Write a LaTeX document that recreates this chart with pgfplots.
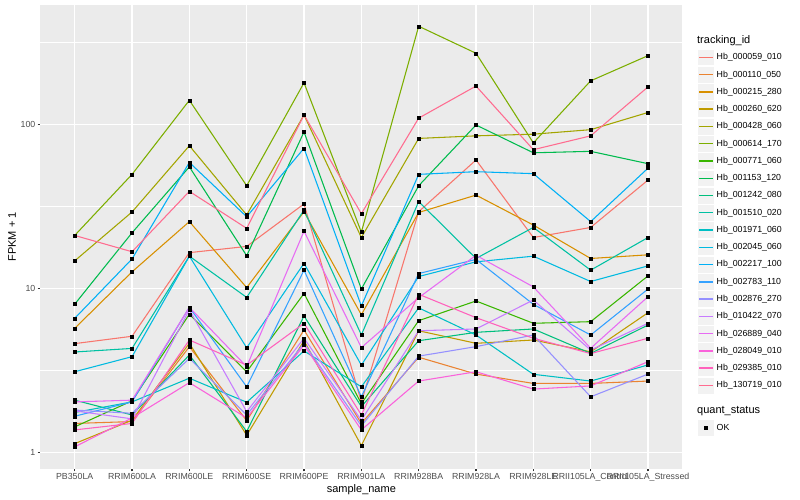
\documentclass[border=0pt]{standalone}
\usepackage{fontspec}
\setmainfont{Liberation Sans}
\usepackage{pgfplots}
\usepackage{pgfplotstable}
\pgfplotsset{compat=1.18}

\definecolor{ggpanel}{HTML}{EBEBEB}
\definecolor{ggkey}{HTML}{F2F2F2}
\definecolor{ggtick}{HTML}{333333}
\definecolor{ggtext}{HTML}{4D4D4D}
\definecolor{c1}{HTML}{F8766D}
\definecolor{c2}{HTML}{EA8331}
\definecolor{c3}{HTML}{D89000}
\definecolor{c4}{HTML}{C09B00}
\definecolor{c5}{HTML}{A3A500}
\definecolor{c6}{HTML}{7CAE00}
\definecolor{c7}{HTML}{39B600}
\definecolor{c8}{HTML}{00BB4E}
\definecolor{c9}{HTML}{00BF7D}
\definecolor{c10}{HTML}{00C1A3}
\definecolor{c11}{HTML}{00BFC4}
\definecolor{c12}{HTML}{00BAE0}
\definecolor{c13}{HTML}{00B0F6}
\definecolor{c14}{HTML}{35A2FF}
\definecolor{c15}{HTML}{9590FF}
\definecolor{c16}{HTML}{C77CFF}
\definecolor{c17}{HTML}{E76BF3}
\definecolor{c18}{HTML}{FA62DB}
\definecolor{c19}{HTML}{FF62BC}
\definecolor{c20}{HTML}{FF6C90}

% FPKM + 1 per sample (x = sample index), one column per tracking_id
\pgfplotstableread{
x  s1   s2   s3   s4   s5   s6   s7   s8   s9   s10  s11  s12  s13  s14  s15  s16  s17  s18  s19  s20
0  4.6  1.50 5.7  1.13 14.7 21   1.43 8.0  2.08 4.09 1.75 3.1  6.56 1.66 1.81 1.79 2.03 1.08 1.37 21
1  5.1  1.54 12.6 1.57 29.2 49.5 2.06 21.8 1.69 4.3  2.03 3.83 15.1 2.03 1.73 1.60 2.08 1.62 1.50 16.7
2  16.5 4.4  25.5 4.62 74   140  6.95 55   3.92 15.7 2.83 15.7 58.5 7.66 3.74 7.4  7.66 2.66 4.84 39
3  18.0 1.56 10.1 1.27 28   42.2 3.1  15.8 1.34 8.8  2.02 4.34 27.3 2.51 1.69 1.77 3.33 1.62 3.4  23.2
4  32.7 5.57 29.3 4.8  114  179  9.3  89.8 6.78 30   4.15 14.2 71.4 12.9 4.62 4.96 22.3 4.5  6.12 114
5  2.03 1.5  6.9  1.1  20.4 22   1.98 9.9  1.9  5.2  2.51 3.4  7.8  2.18 1.45 1.57 4.35 1.37 1.69 28.5
6  29.3 3.8  29.0 5.51 82   396  6.35 42.2 4.79 33.8 7.6  11.8 49.5 12.3 3.86 5.51 8.77 2.72 9.2  109
7  60.6 3.0  37   4.62 85   271  8.37 99   5.39 15.2 5.19 14.5 51.4 15   4.41 5.65 15.9 3.1  6.62 171
8  20.4 2.63 24.3 4.84 87   77   6.12 67   5.65 23.5 2.99 15.7 50   7.99 5.19 8.49 10.2 2.43 4.96 70
9  23.5 2.63 15.2 4.1  92.7 184  6.26 68.4 4.01 12.9 2.72 11   25.5 5.19 2.18 4.2  4.31 2.54 4.0  85
10 45.7 2.72 16.0 7.1  118  262  11.9 57.5 5.97 20.4 3.41 13.7 54   9.9  3.0  6.12 8.89 3.57 4.96 169
}\data

\begin{document}
\begin{tikzpicture}
\path[use as bounding box] (0,0) rectangle (800bp,500bp);
\begin{axis}[
  at={(40.3bp,31.4bp)}, anchor=south west,
  scale only axis, width=642.1bp, height=463.4bp,
  xmin=-0.6, xmax=10.6,
  ymode=log, ymin=0.796, ymax=532,
  axis background/.style={fill=ggpanel},
  axis line style={draw=none},
  tick pos=left, tick align=outside,
  major tick length=2.75bp, minor tick length=0pt,
  tick style={color=ggtick, line width=1.07bp},
  xtick={0,...,10},
  xticklabels={PB350LA,RRIM600LA,RRIM600LE,RRIM600SE,RRIM600PE,RRIM901LA,RRIM928BA,RRIM928LA,RRIM928LE,RRII105LA\_Control,RRII105LA\_Stressed},
  ytick={1,10,100}, yticklabels={1,10,100},
  minor ytick={3.1623,31.623,316.23},
  xmajorgrids, ymajorgrids, yminorgrids,
  major grid style={white, line width=1.07bp},
  minor grid style={white, line width=0.53bp},
  ticklabel style={font=\fontsize{8.8bp}{10bp}\selectfont, text=ggtext, inner sep=0pt, outer sep=0pt},
  xticklabel shift=2.2bp, yticklabel shift=2.2bp,
  xlabel={sample\_name},
  every axis x label/.style={at={(axis description cs:0.5,-0.0505)}, anchor=base, font=\fontsize{11bp}{13bp}\selectfont, inner sep=0pt},
  ylabel={FPKM + 1},
  every axis y label/.style={at={(axis description cs:-0.0441,0.5)}, rotate=90, anchor=center, font=\fontsize{11bp}{13bp}\selectfont, inner sep=0pt},
  legend cell align=left,
  legend style={at={(1.0232,0.9407)}, anchor=north west, draw=none, fill=none,
    inner sep=0pt, outer sep=0pt, row sep=0pt, column sep=2.1bp,
    font=\fontsize{8.8bp}{10bp}\selectfont, nodes={inner sep=0pt, text=black}},
  legend image code/.code={
    \filldraw[fill=ggkey, draw=white, line width=0.5bp] (0.25bp,-8.385bp) rectangle (17.03bp,8.385bp);
    \draw[line width=1.4bp] (1.7bp,0bp) -- (15.58bp,0bp);
  },
]
\addlegendimage{legend image code/.code={\path[draw=none, fill=none] (0bp,-8bp) rectangle (0bp,8bp);}}
\addlegendentry{\makebox[0pt][l]{\hspace*{-20bp}\fontsize{11bp}{13bp}\selectfont tracking\_id}}

\addplot[c1, line width=1.07bp] table[x=x, y=s1]{\data}; \addlegendentry{Hb\_000059\_010}
\addplot[c2, line width=1.07bp] table[x=x, y=s2]{\data}; \addlegendentry{Hb\_000110\_050}
\addplot[c3, line width=1.07bp] table[x=x, y=s3]{\data}; \addlegendentry{Hb\_000215\_280}
\addplot[c4, line width=1.07bp] table[x=x, y=s4]{\data}; \addlegendentry{Hb\_000260\_620}
\addplot[c5, line width=1.07bp] table[x=x, y=s5]{\data}; \addlegendentry{Hb\_000428\_060}
\addplot[c6, line width=1.07bp] table[x=x, y=s6]{\data}; \addlegendentry{Hb\_000614\_170}
\addplot[c7, line width=1.07bp] table[x=x, y=s7]{\data}; \addlegendentry{Hb\_000771\_060}
\addplot[c8, line width=1.07bp] table[x=x, y=s8]{\data}; \addlegendentry{Hb\_001153\_120}
\addplot[c9, line width=1.07bp] table[x=x, y=s9]{\data}; \addlegendentry{Hb\_001242\_080}
\addplot[c10, line width=1.07bp] table[x=x, y=s10]{\data}; \addlegendentry{Hb\_001510\_020}
\addplot[c11, line width=1.07bp] table[x=x, y=s11]{\data}; \addlegendentry{Hb\_001971\_060}
\addplot[c12, line width=1.07bp] table[x=x, y=s12]{\data}; \addlegendentry{Hb\_002045\_060}
\addplot[c13, line width=1.07bp] table[x=x, y=s13]{\data}; \addlegendentry{Hb\_002217\_100}
\addplot[c14, line width=1.07bp] table[x=x, y=s14]{\data}; \addlegendentry{Hb\_002783\_110}
\addplot[c15, line width=1.07bp] table[x=x, y=s15]{\data}; \addlegendentry{Hb\_002876\_270}
\addplot[c16, line width=1.07bp] table[x=x, y=s16]{\data}; \addlegendentry{Hb\_010422\_070}
\addplot[c17, line width=1.07bp] table[x=x, y=s17]{\data}; \addlegendentry{Hb\_026889\_040}
\addplot[c18, line width=1.07bp] table[x=x, y=s18]{\data}; \addlegendentry{Hb\_028049\_010}
\addplot[c19, line width=1.07bp] table[x=x, y=s19]{\data}; \addlegendentry{Hb\_029385\_010}
\addplot[c20, line width=1.07bp] table[x=x, y=s20]{\data}; \addlegendentry{Hb\_130719\_010}

% points on top of all lines
\pgfplotsinvokeforeach{1,...,20}{
  \addplot[forget plot, only marks, mark=square*, mark size=1.5bp, black] table[x=x, y=s#1]{\data};
}

\addlegendimage{legend image code/.code={\path[draw=none, fill=none] (0bp,-8bp) rectangle (0bp,17bp);}}
\addlegendentry{\makebox[0pt][l]{\hspace*{-20bp}\fontsize{11bp}{13bp}\selectfont quant\_status}}
\addlegendimage{legend image code/.code={
    \filldraw[fill=ggkey, draw=white, line width=0.5bp] (0.25bp,-8.385bp) rectangle (17.03bp,8.385bp);
    \fill[black] (7.04bp,-1.6bp) rectangle (10.24bp,1.6bp);}}
\addlegendentry{OK}
\end{axis}
\end{tikzpicture}
\end{document}
